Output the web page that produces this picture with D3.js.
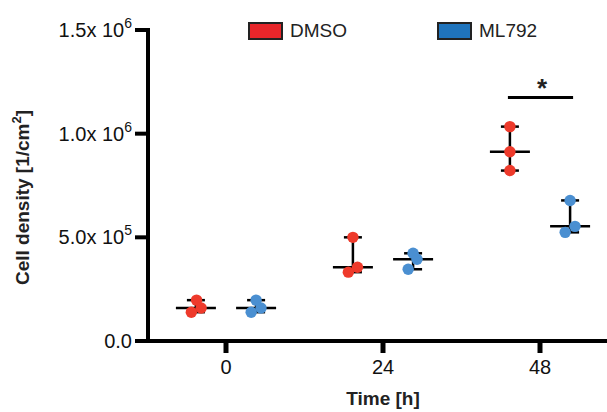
<!DOCTYPE html>
<html>
<head>
<meta charset="utf-8">
<script src="https://cdn.jsdelivr.net/npm/d3@7"></script>
<style>
  html, body { margin: 0; padding: 0; background: #fff; }
  svg { display: block; font-family: "Liberation Sans", Arial, sans-serif; }
</style>
</head>
<body>
<div id="chart"></div>
<script>
// time points (h), groups, replicate values (cells / cm^2)
const times = [0, 24, 48];
const groups = ["DMSO", "ML792"];
const dmso = [
  [197000, 159000, 139000],
  [500000, 356000, 332000],
  [1034000, 913000, 822000],
];
const ml792 = [
  [197000, 159000, 139000],
  [423000, 394000, 346000],
  [678000, 553000, 524000],
];
// horizontal scatter of each replicate dot, in hours
const dmsoJitter = [[0.1, 0.8, -0.7], [0, 0.7, -0.7], [0, 0, 0]];
const ml792Jitter = [[0, 0.75, -0.75], [0, 0.6, -0.75], [0, 0.75, -0.75]];
const yTicks = [0, 5e5, 1e6, 1.5e6];
const colors = { DMSO: "#ee3a2b", ML792: "#4a8fd1" };
const swatch = { DMSO: "#e8262a", ML792: "#1f74bd" };

const W = 607, H = 412;
const m = { top: 30, right: 0, bottom: 71, left: 148 };

const svg = d3.select("#chart").append("svg")
  .attr("width", W).attr("height", H);

const x = d3.scaleLinear().domain([0, 48]).range([226, 540]);
const y = d3.scaleLinear().domain([0, 1.5e6]).range([H - m.bottom, m.top]);
const dx = d3.scalePoint().domain(groups).range([-4.6, 4.6]); // group offset, hours

// y axis
svg.append("line")
  .attr("x1", m.left).attr("x2", m.left)
  .attr("y1", y(1.5e6) - 2).attr("y2", y(0) + 2)
  .attr("stroke", "#000").attr("stroke-width", 4);
svg.append("g").selectAll("line").data(yTicks).join("line")
  .attr("x1", 135).attr("x2", m.left)
  .attr("y1", (d) => y(d)).attr("y2", (d) => y(d))
  .attr("stroke", "#000").attr("stroke-width", 4);

const lab = svg.append("g").selectAll("text").data(yTicks).join("text")
  .attr("x", 132).attr("y", (d) => y(d) + 7)
  .attr("text-anchor", "end")
  .style("font-size", "20px").attr("fill", "#111");
lab.each(function (d) {
  const t = d3.select(this);
  if (d === 0) { t.text("0.0"); return; }
  const e = Math.floor(Math.log10(d));
  t.append("tspan").text((d / 10 ** e).toFixed(1) + "x 10");
  t.append("tspan").attr("dy", -9).style("font-size", "14px").text(e);
});

// x axis
svg.append("line")
  .attr("x1", m.left).attr("x2", W)
  .attr("y1", y(0)).attr("y2", y(0))
  .attr("stroke", "#000").attr("stroke-width", 4);
svg.append("g").selectAll("line").data(times).join("line")
  .attr("x1", (d) => x(d)).attr("x2", (d) => x(d))
  .attr("y1", y(0)).attr("y2", y(0) + 12)
  .attr("stroke", "#000").attr("stroke-width", 5);
svg.append("g").selectAll("text").data(times).join("text")
  .attr("x", (d) => x(d)).attr("y", y(0) + 33)
  .attr("text-anchor", "middle")
  .style("font-size", "20px").attr("fill", "#111")
  .text((d) => d);

// axis titles
svg.append("text")
  .attr("x", x(24)).attr("y", 405)
  .attr("text-anchor", "middle")
  .style("font-size", "19px").style("font-weight", "bold").attr("fill", "#222")
  .text("Time [h]");
const yt = svg.append("text")
  .attr("transform", `translate(29,${(y(0) + y(1.5e6)) / 2 + 12}) rotate(-90)`)
  .attr("text-anchor", "middle")
  .style("font-size", "19px").style("font-weight", "bold").attr("fill", "#222");
yt.append("tspan").text("Cell density [1/cm");
yt.append("tspan").attr("dy", -8).style("font-size", "13px").text("2");
yt.append("tspan").attr("dy", 8).text("]");

// median + range, and replicate dots
const series = { DMSO: dmso, ML792: ml792 };
const jit = { DMSO: dmsoJitter, ML792: ml792Jitter };
for (const g of groups) {
  const rows = series[g].map((vals, i) => ({ t: times[i], vals, j: jit[g][i] }));
  const cx = (r) => x(r.t + dx(g));
  const gg = svg.append("g");
  gg.selectAll("line.rng").data(rows).join("line")
    .attr("x1", cx).attr("x2", cx)
    .attr("y1", (r) => y(d3.max(r.vals))).attr("y2", (r) => y(d3.min(r.vals)))
    .attr("stroke", "#000").attr("stroke-width", 2.5);
  for (const f of [d3.max, d3.min]) {
    gg.selectAll(null).data(rows).join("line")
      .attr("x1", (r) => cx(r) - 9).attr("x2", (r) => cx(r) + 9)
      .attr("y1", (r) => y(f(r.vals))).attr("y2", (r) => y(f(r.vals)))
      .attr("stroke", "#000").attr("stroke-width", 2.5);
  }
  gg.selectAll(null).data(rows).join("line")
    .attr("x1", (r) => cx(r) - 20).attr("x2", (r) => cx(r) + 20)
    .attr("y1", (r) => y(d3.median(r.vals))).attr("y2", (r) => y(d3.median(r.vals)))
    .attr("stroke", "#000").attr("stroke-width", 2.5);
  gg.selectAll("circle")
    .data(rows.flatMap((r) => r.vals.map((v, k) => ({ t: r.t, v, j: r.j[k] }))))
    .join("circle")
    .attr("cx", (d) => x(d.t + dx(g) + d.j))
    .attr("cy", (d) => y(d.v))
    .attr("r", 5.7)
    .attr("fill", colors[g]);
}

// significance bar at 48 h
const sigY = 1.5e6 - 0.326e6;
svg.append("line")
  .attr("x1", x(48 + dx("DMSO")) - 2).attr("x2", x(48 + dx("ML792")) + 3)
  .attr("y1", y(sigY)).attr("y2", y(sigY))
  .attr("stroke", "#000").attr("stroke-width", 3);
svg.append("text")
  .attr("x", (x(48 + dx("DMSO")) + x(48 + dx("ML792"))) / 2 + 2).attr("y", y(sigY) - 1)
  .attr("text-anchor", "middle")
  .style("font-size", "26px").style("font-weight", "bold").attr("fill", "#222")
  .text("*");

// legend
const leg = svg.append("g").selectAll("g").data(groups).join("g")
  .attr("transform", (d, i) => `translate(${[249, 438][i]},23)`);
leg.append("rect")
  .attr("width", 33).attr("height", 16)
  .attr("fill", (d) => swatch[d]).attr("stroke", "#222").attr("stroke-width", 2);
leg.append("text")
  .attr("x", 41).attr("y", 14)
  .style("font-size", "19px").attr("fill", "#222")
  .text((d) => d);
</script>
</body>
</html>
